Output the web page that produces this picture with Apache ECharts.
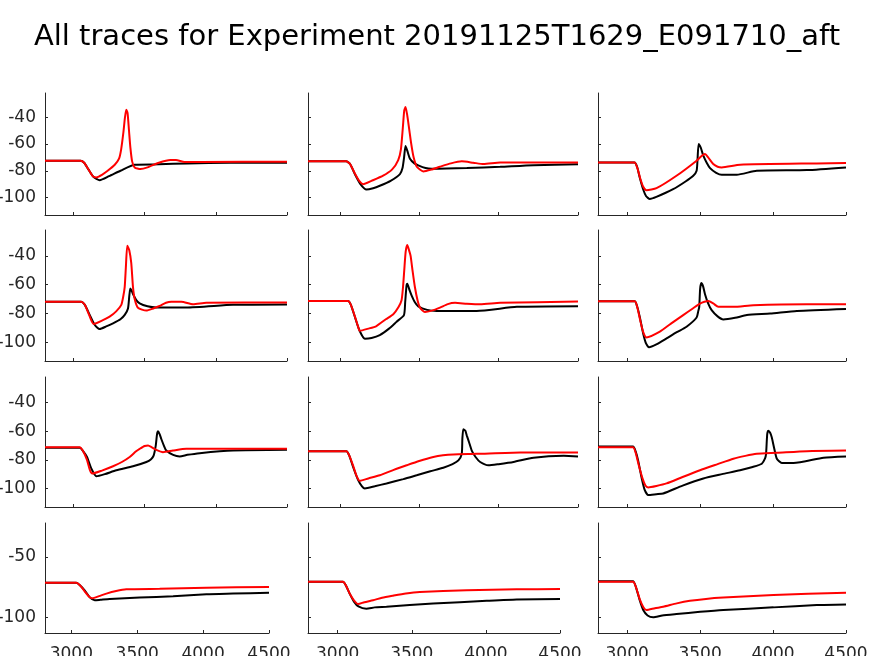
<!DOCTYPE html>
<html>
<head>
<meta charset="utf-8">
<script src="https://cdn.jsdelivr.net/npm/echarts@6/dist/echarts.min.js"></script>
<style>html,body{margin:0;padding:0;background:#fff}#c{width:874px;height:656px}</style>
</head>
<body>
<div id="c"></div>
<script>
const titleText = 'All traces for Experiment 20191125T1629_E091710_aft';
const xTicks = [3000, 3500, 4000, 4500];
const yTicksTop = [-100, -80, -60, -40];
const yTicksBottom = [-100, -50];

const p1Black = [[2800,-72.5],[3050,-72.5],[3075,-74],[3105,-79],[3140,-84.5],[3184,-87],[3250,-84],[3330,-80],[3430,-75.5],[3600,-75.2],[3800,-74.5],[4100,-74],[4500,-74]];
const p1Red = [[2800,-72.5],[3050,-72.5],[3075,-74],[3105,-79],[3135,-84],[3160,-85],[3200,-83],[3240,-80],[3290,-75.5],[3320,-71],[3335,-64],[3350,-52],[3362,-40],[3371,-34.5],[3380,-37],[3390,-50],[3400,-63],[3412,-73],[3430,-77.5],[3470,-78.75],[3520,-77.5],[3600,-74],[3680,-72],[3720,-72],[3780,-73.5],[3900,-73.4],[4500,-73.2]];
const p2Black = [[2800,-73],[3040,-73],[3065,-75],[3095,-82.5],[3130,-90],[3168,-94],[3210,-93],[3252,-91.2],[3320,-87.5],[3379,-82.5],[3395,-78],[3405,-70],[3414,-61.5],[3425,-65],[3442,-71],[3470,-74.5],[3494,-76],[3540,-78],[3578,-78.5],[3800,-78],[4010,-77],[4220,-75.8],[4500,-75.2]];
const p2Red = [[2800,-73],[3040,-73],[3065,-75],[3095,-82],[3125,-88],[3147,-90],[3200,-87.5],[3273,-83.7],[3330,-79],[3368,-72],[3385,-64],[3397,-48],[3406,-35],[3414,-32.5],[3424,-38],[3436,-48],[3450,-60],[3465,-70],[3485,-77],[3526,-80.5],[3580,-79],[3631,-77],[3700,-74.5],[3768,-73],[3840,-74],[3905,-75],[4010,-73.8],[4500,-73.8]];
const p3Black = [[2800,-73.75],[3050,-73.75],[3068,-77],[3086,-85],[3110,-94],[3130,-99],[3155,-101],[3200,-99.5],[3315,-93.75],[3400,-88],[3453,-83.75],[3476,-80],[3482,-72],[3490,-60],[3505,-63],[3522,-68.75],[3545,-74],[3568,-78],[3610,-81.5],[3648,-83],[3751,-83],[3888,-80],[4232,-79.5],[4500,-77.5]];
const p3Red = [[2800,-73.75],[3050,-73.75],[3070,-78],[3090,-86],[3110,-92],[3132,-94.5],[3201,-93],[3338,-83.75],[3476,-72.5],[3510,-69],[3533,-67.5],[3555,-70],[3590,-75],[3620,-77],[3648,-77.5],[3774,-75.5],[4300,-74.5],[4500,-74.25]];
const p4Black = [[2800,-71.8],[3055,-71.8],[3080,-74],[3114,-81],[3150,-88],[3184,-90.8],[3230,-89],[3278,-86.8],[3330,-84],[3360,-81],[3383,-76.5],[3392,-68],[3399,-62.6],[3408,-64],[3418,-66.5],[3440,-70.5],[3465,-73],[3520,-75],[3582,-75.8],[3793,-75.8],[4121,-74],[4500,-73.7]];
const p4Red = [[2800,-71.8],[3055,-71.8],[3080,-74],[3110,-81],[3142,-87.3],[3200,-85],[3254,-82.2],[3300,-78.5],[3336,-74],[3350,-68],[3360,-61.5],[3368,-48],[3378,-33],[3392,-36],[3406,-45],[3418,-61.5],[3430,-70],[3453,-76],[3512,-78],[3560,-76.5],[3605,-74.8],[3650,-72.5],[3688,-71.8],[3758,-71.8],[3840,-73.5],[3933,-72.5],[4500,-72.3]];
const p5Black = [[2800,-71.3],[3052,-71.3],[3070,-74],[3095,-82.3],[3125,-92],[3158,-97.5],[3200,-97],[3252,-95],[3310,-90.5],[3358,-85.7],[3404,-81.1],[3412,-72],[3420,-61],[3425,-59.3],[3440,-64],[3452,-67.4],[3472,-72],[3494,-75],[3550,-77.5],[3610,-78.2],[3862,-78.2],[4115,-75.4],[4500,-74.9]];
const p5Red = [[2800,-71.3],[3052,-71.3],[3070,-74],[3095,-82],[3115,-89],[3126,-92],[3180,-90.5],[3231,-88.7],[3290,-84],[3337,-80.5],[3370,-75.5],[3389,-70.8],[3398,-62],[3406,-50],[3415,-37],[3425,-32.4],[3436,-36],[3446,-40],[3458,-50],[3473,-61.6],[3490,-71],[3505,-75.9],[3536,-79],[3580,-78],[3631,-75.9],[3680,-73.5],[3726,-72.6],[3800,-73.2],[3884,-73.6],[4010,-72.6],[4500,-71.7]];
const p6Black = [[2800,-71.5],[3052,-71.5],[3068,-75],[3086,-82.3],[3110,-94],[3130,-101],[3150,-103.5],[3200,-101.5],[3270,-97.3],[3340,-93],[3407,-89.2],[3476,-82.8],[3488,-78],[3494,-75.4],[3500,-63],[3508,-58.9],[3520,-61],[3533,-66.4],[3555,-73],[3579,-77.7],[3620,-82],[3659,-84.1],[3740,-83],[3820,-81.1],[3980,-80],[4163,-78.2],[4500,-76.8]];
const p6Red = [[2800,-71.5],[3052,-71.5],[3070,-76],[3090,-85],[3110,-93],[3132,-96.6],[3224,-92.6],[3300,-87],[3384,-81.1],[3450,-76.5],[3499,-73.1],[3530,-71.8],[3556,-71.3],[3590,-73],[3625,-75.4],[3728,-75.4],[3865,-74.3],[4232,-73.6],[4500,-73.6]];
const p7Black = [[2800,-71.6],[3044,-71.6],[3065,-73.5],[3095,-78],[3125,-86],[3161,-91.5],[3220,-90],[3301,-87.3],[3418,-84.5],[3512,-81.5],[3545,-79.5],[3563,-77],[3578,-70],[3587,-62],[3594,-60],[3605,-62],[3617,-65.4],[3635,-70],[3652,-73.5],[3700,-76.5],[3746,-77.6],[3800,-76.5],[3887,-75.3],[4121,-73.5],[4500,-73]];
const p7Red = [[2800,-71.2],[3044,-71.2],[3065,-73.5],[3095,-80],[3115,-87],[3132,-89.6],[3200,-87.5],[3278,-84.5],[3340,-81.5],[3395,-78],[3440,-74],[3465,-72.3],[3500,-70.3],[3524,-70],[3550,-71.2],[3582,-73],[3629,-74.6],[3699,-73.5],[3793,-72.3],[4500,-72.3]];
const p8Black = [[2800,-73.9],[3042,-73.9],[3060,-77],[3084,-85],[3115,-94],[3140,-98.5],[3158,-100],[3220,-98.5],[3294,-96.5],[3400,-93.5],[3484,-90.8],[3570,-88],[3652,-85.5],[3710,-83],[3747,-80.4],[3768,-75.8],[3772,-65],[3778,-58.5],[3790,-59.5],[3800,-63],[3815,-68],[3831,-73.5],[3855,-78],[3884,-81.5],[3936,-83.8],[4000,-83],[4094,-81.5],[4220,-78.5],[4410,-77.2],[4500,-77.6]];
const p8Red = [[2800,-73.9],[3042,-73.9],[3060,-77],[3084,-84],[3105,-91],[3126,-94.7],[3180,-93],[3252,-90.8],[3340,-87],[3421,-83.8],[3500,-80.8],[3589,-78],[3650,-76.8],[3715,-76.2],[3862,-75.8],[4136,-74.8],[4500,-74.8]];
const p9Black = [[2800,-70.7],[3040,-70.7],[3058,-74],[3075,-80.4],[3100,-93],[3120,-101],[3144,-104.6],[3200,-104],[3247,-103.5],[3380,-98],[3522,-93],[3650,-90],[3774,-87.3],[3860,-85],[3923,-82.7],[3945,-79],[3952,-75.8],[3960,-62],[3968,-59.6],[3980,-61],[3991,-64.2],[4008,-72],[4026,-79.2],[4060,-82.2],[4140,-82.2],[4346,-78.5],[4500,-77.6]];
const p9Red = [[2800,-71.2],[3040,-71.2],[3058,-75],[3080,-84],[3105,-93],[3125,-98],[3144,-99.3],[3200,-98.3],[3270,-96.5],[3380,-92],[3499,-87.3],[3620,-83],[3728,-79.2],[3810,-77.2],[3888,-75.8],[4026,-75.1],[4232,-73.9],[4500,-73.5]];
const p10Black = [[2800,-71.5],[3038,-71.5],[3065,-73.5],[3101,-77.7],[3140,-83.5],[3177,-85.9],[3220,-85.5],[3291,-84.8],[3519,-83.7],[3772,-82.6],[4025,-81],[4227,-80.4],[4500,-79.6]];
const p10Red = [[2800,-71.5],[3038,-71.5],[3065,-73.5],[3101,-78.5],[3135,-83],[3159,-84.2],[3210,-82.5],[3266,-80.4],[3340,-78.3],[3417,-76.9],[3670,-76.4],[4025,-75.5],[4500,-75]];
const p11Black = [[2800,-70.7],[3036,-70.7],[3055,-73.5],[3081,-80.4],[3110,-87],[3140,-91],[3194,-92.9],[3250,-91.8],[3329,-91.3],[3644,-88.6],[4005,-86.4],[4207,-85.3],[4500,-84.8]];
const p11Red = [[2800,-70.7],[3036,-70.7],[3055,-73.5],[3081,-80.4],[3110,-86],[3138,-89.1],[3180,-87.5],[3239,-85.9],[3300,-83.8],[3374,-82.1],[3460,-80.3],[3554,-79.1],[3870,-77.7],[4207,-76.9],[4500,-76.6]];
const p12Black = [[2800,-70.1],[3040,-70.1],[3060,-75],[3086,-85.9],[3110,-94],[3140,-98.5],[3178,-100],[3240,-98.5],[3338,-97.3],[3500,-95.5],[3659,-94],[4003,-91.8],[4300,-89.9],[4500,-89.4]];
const p12Red = [[2800,-70.7],[3040,-70.7],[3060,-75],[3086,-85],[3110,-91.5],[3132,-94],[3190,-92.5],[3247,-91.3],[3340,-88.5],[3430,-86.4],[3540,-84.8],[3659,-83.7],[4003,-81.5],[4500,-79.6]];

const blackTraces = [p1Black,p2Black,p3Black,p4Black,p5Black,p6Black,p7Black,p8Black,p9Black,p10Black,p11Black,p12Black];
const redTraces = [p1Red,p2Red,p3Red,p4Red,p5Red,p6Red,p7Red,p8Red,p9Red,p10Red,p11Red,p12Red];

// layout
const rowTops = [93, 230, 377, 523];
const rowHeights = [122, 131, 130, 110];
const colLefts = [45, 308, 598];
const colWidthsUpper = [242, 270, 248];
const colWidthsBottom = [224, 252, 248];

const axisColor = '#262626';
const font = 'DejaVu Sans';
const grids = [], xAxes = [], yAxes = [], series = [];
for (let r = 0; r < 4; r++) {
  for (let c = 0; c < 3; c++) {
    const i = r * 3 + c;
    const w = r === 3 ? colWidthsBottom[c] : colWidthsUpper[c];
    grids.push({left: colLefts[c], top: rowTops[r], width: w, height: rowHeights[r], containLabel: false, outerBoundsMode: 'none'});
    xAxes.push({
      type: 'value', gridIndex: i, min: 2800, max: 4500,
      axisLine: {show: true, onZero: false, lineStyle: {color: axisColor, width: 1}},
      axisTick: {show: true, inside: true, length: 3, customValues: xTicks, lineStyle: {color: axisColor}},
      axisLabel: {show: r === 3, customValues: xTicks, fontSize: 17, color: axisColor, fontFamily: font, margin: 13,
        formatter: v => String(v)},
      splitLine: {show: false}
    });
    const yt = r === 3 ? yTicksBottom : yTicksTop;
    yAxes.push({
      type: 'value', gridIndex: i, min: -113, max: -22,
      axisLine: {show: true, onZero: false, lineStyle: {color: axisColor, width: 1}},
      axisTick: {show: true, inside: true, length: 3, customValues: yt, lineStyle: {color: axisColor}},
      axisLabel: {show: c === 0, customValues: yt, fontSize: 17, color: axisColor, fontFamily: font, margin: 9,
        formatter: v => String(v)},
      splitLine: {show: false}
    });
    series.push({type: 'line', xAxisIndex: i, yAxisIndex: i, data: blackTraces[i], showSymbol: false, smooth: 0.2,
      lineStyle: {color: '#000000', width: 2}, itemStyle: {color: '#000000'}, z: 2});
    series.push({type: 'line', xAxisIndex: i, yAxisIndex: i, data: redTraces[i], showSymbol: false, smooth: 0.2,
      lineStyle: {color: '#ff0000', width: 2}, itemStyle: {color: '#ff0000'}, z: 3});
  }
}

const chart = echarts.init(document.getElementById('c'), null, {renderer: 'canvas'});
chart.setOption({
  animation: false,
  backgroundColor: '#ffffff',
  title: {text: titleText, left: 'center', top: 18, textStyle: {fontSize: 29, fontWeight: 'normal', color: '#000', fontFamily: font}},
  grid: grids, xAxis: xAxes, yAxis: yAxes, series: series
});
</script>
</body>
</html>
